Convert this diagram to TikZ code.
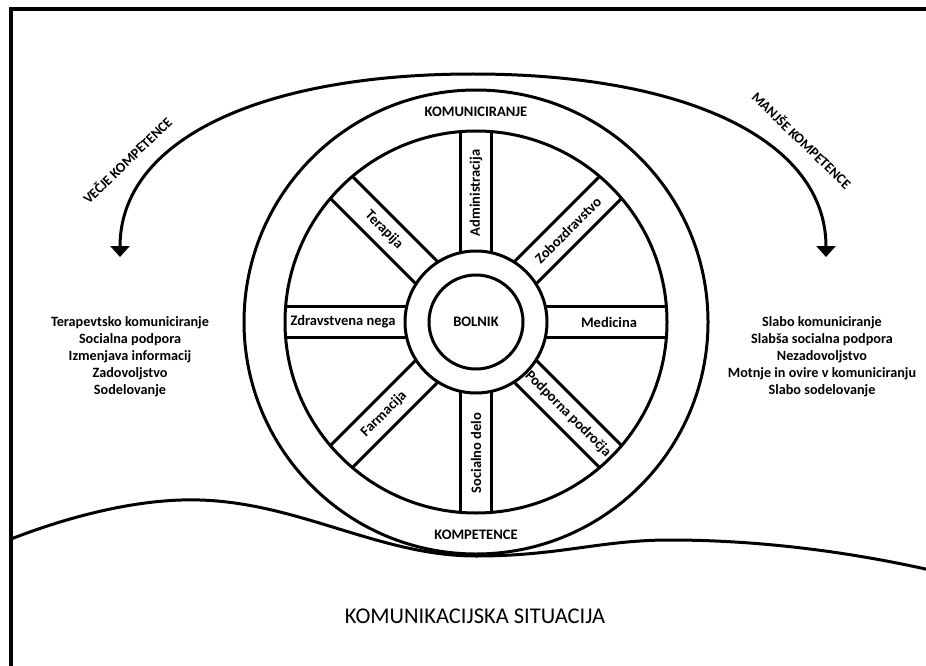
\documentclass[tikz,border=0pt]{standalone}
\usepackage{fontspec}
\setmainfont{Carlito}
\usetikzlibrary{arrows.meta}
\begin{document}
\begin{tikzpicture}[x=1pt,y=-1pt,
  ln/.style={line width=3pt},
  frm/.style={line width=3.2pt},
  lbl/.style={font=\fontsize{14.5}{16}\selectfont\bfseries, inner sep=0pt},
  side/.style={font=\fontsize{14.2}{17}\selectfont\bfseries, align=center, inner sep=0pt},
  arrlbl/.style={font=\fontsize{14}{16}\selectfont\bfseries, inner sep=0pt},
  bigarrow/.style={line width=3pt, {Triangle[width=19pt,length=11pt]}-{Triangle[width=19pt,length=11pt]}}
]
\useasboundingbox (0,0) rectangle (926,666);
% frame
\draw[frm] (11,670) -- (11,9) -- (930,9);
% ground wave
\draw[ln] (11,539) .. controls (70,516) and (140,498) .. (200,500)
  .. controls (300,503) and (380,556) .. (476,556)
  .. controls (560,556) and (600,540) .. (670,540)
  .. controls (760,540) and (850,552) .. (930,570);
% big arrow
\coordinate (la) at (120,257);
\coordinate (ra) at (826,257);
\coordinate (top) at (473,74);
\draw[bigarrow] (la) .. controls (120,140) and (260,74) .. (top)
  .. controls (686,74) and (826,140) .. (ra);
\node[arrlbl, rotate=44] (vl) at (127,160) {VEČJE KOMPETENCE};
\node[arrlbl, rotate=-44] (ml) at (802,140) {MANJŠE KOMPETENCE};
% wheel
\coordinate (c) at (476,322);
\fill[white] (c) circle (232);
\draw[ln] (c) circle (232);
\draw[ln] (c) circle (191);
\draw[ln] (c) circle (71);
\draw[ln] (c) circle (47);
\foreach \a in {0,45,...,315}{
  \begin{scope}[shift={(c)}, rotate=\a]
    \draw[ln] (69.3,15.5) -- (190.4,15.5);
    \draw[ln] (69.3,-15.5) -- (190.4,-15.5);
  \end{scope}
}
\node[lbl] (kom) at (476,112) {KOMUNICIRANJE};
\node[lbl] (komp) at (476,535) {KOMPETENCE};
\node[lbl] (bol) at (c) {BOLNIK};
\node[lbl, rotate=90] (adm) at (476,193) {Administracija};
\node[lbl, rotate=45] (zob) at (568,230) {Zobozdravstvo};
\node[lbl] (med) at (609,322) {Medicina};
\node[lbl, rotate=-45] (pod) at (568,414) {Podporna področja};
\node[lbl, rotate=90] (soc) at (476,453) {Socialno delo};
\node[lbl, rotate=45] (far) at (384,414) {Farmacija};
\node[lbl] (zdr) at (343,322) {Zdravstvena nega};
\node[lbl, rotate=-45] (ter) at (384,230) {Terapija};
% side texts
\node[side] (left) at (130,357) {Terapevtsko komuniciranje\\Socialna podpora\\Izmenjava informacij\\Zadovoljstvo\\Sodelovanje};
\node[side] (right) at (822,357) {Slabo komuniciranje\\Slabša socialna podpora\\Nezadovoljstvo\\Motnje in ovire v komuniciranju\\Slabo sodelovanje};
% bottom title
\node[font=\fontsize{22.5}{26}\selectfont, inner sep=0pt] (sit) at (475,616) {KOMUNIKACIJSKA SITUACIJA};
\end{tikzpicture}
\end{document}
